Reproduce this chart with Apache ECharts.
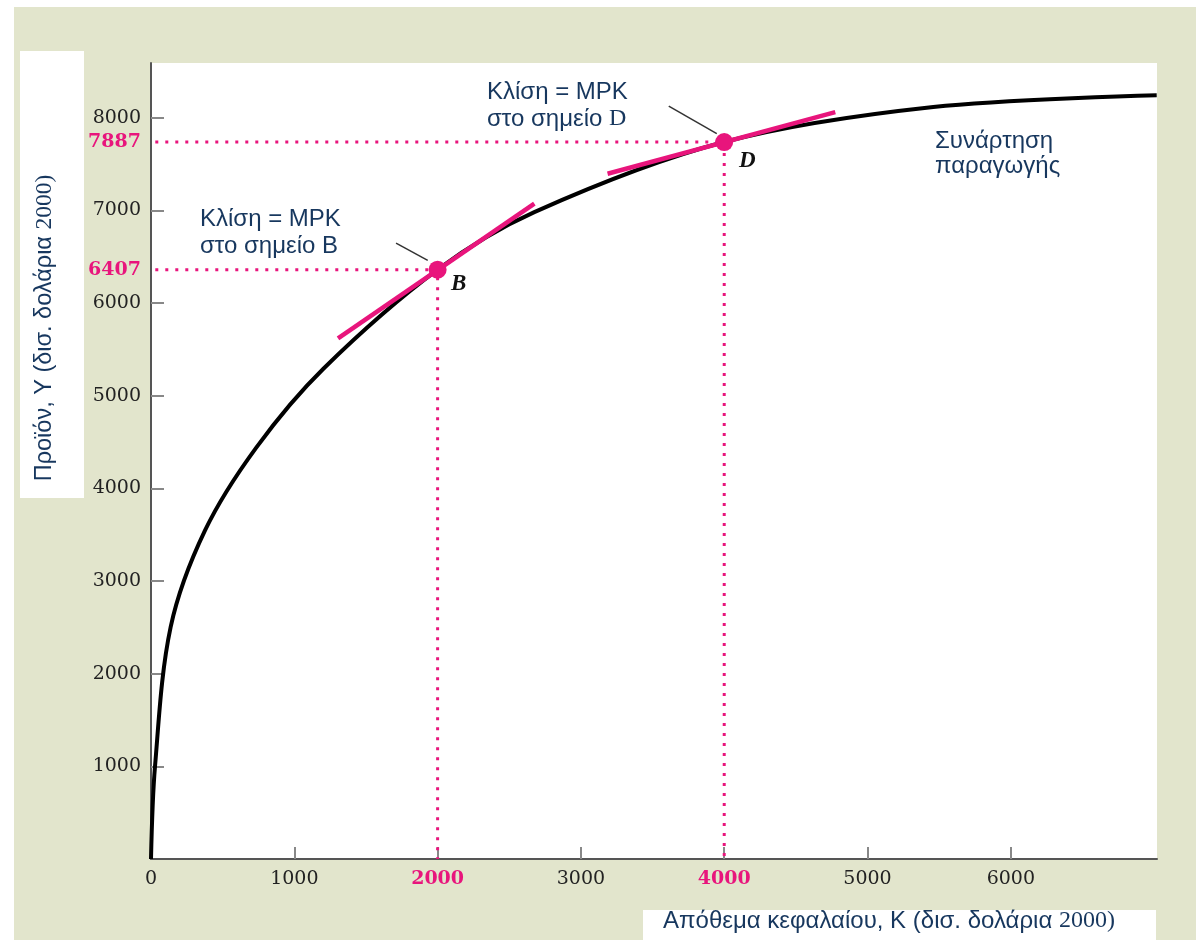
<!DOCTYPE html>
<html><head><meta charset="utf-8">
<script src="https://cdn.jsdelivr.net/npm/echarts@6/dist/echarts.min.js"></script>
<style>html,body{margin:0;padding:0;background:#fff}#c{width:1196px;height:940px}</style>
</head><body><div id="c"></div>
<script>
// Production function curve (K, Y)
const curveK = [0, 28, 137, 377, 737, 1203, 2000, 2675, 4000, 5459, 7018];
const curveY = [0, 1000, 2502, 3546, 4445, 5291, 6360, 6981, 7737, 8115, 8241];
// Marked points B and D
const pointNames = ['B', 'D'];
const pointK = [2000, 4000];
const pointY = [6360, 7737];
const pointYLabels = ['6407', '7887'];
// Tangent segments (slope = MPK)
const tangentBK = [1305, 2675];
const tangentBY = [5618, 7072];
const tangentDK = [3186, 4775];
const tangentDY = [7395, 8060];
// Leader lines from the annotations
const leaderBK = [1710, 1931];
const leaderBY = [6646, 6460];
const leaderDK = [3613, 3948];
const leaderDY = [8125, 7827];
// Axis ticks
const xTickValues = [0, 1000, 2000, 3000, 4000, 5000, 6000];
const xTickMarks = [1000, 2000, 3000, 4000, 5000, 6000];
const yTickValues = [1000, 2000, 3000, 4000, 5000, 6000, 7000, 8000];

const PINK = '#e8157c';
const NAVY = '#17375e';
const BEIGE = '#e2e5cc';
const SANS = '"Liberation Sans", Arial, sans-serif';
const SERIF = '"DejaVu Serif", serif';
const FS = 24;

const zip = (a, b) => a.map((v, i) => [v, b[i]]);

const chart = echarts.init(document.getElementById('c'));

const guideSeries = pointK.map((k, i) => ({
  type: 'line', silent: true, symbol: 'none', z: 3,
  data: [[30, pointY[i]], [k, pointY[i]], [k, 0]],
  lineStyle: { color: PINK, width: 3, type: [3, 7] }
}));

const richSerif = { s: { fontFamily: '"Liberation Serif", serif', fontSize: FS, color: NAVY } };

const option = {
  animation: false,
  grid: { left: 151, right: 39, top: 63, bottom: 81 },
  xAxis: {
    type: 'value', min: 0, max: 7020,
    axisLine: { show: true, lineStyle: { color: '#555', width: 2 } },
    axisTick: { show: true, inside: true, length: 12, customValues: xTickMarks, lineStyle: { color: '#888', width: 2 } },
    axisLabel: {
      customValues: xTickValues, margin: 11,
      fontFamily: SERIF, fontSize: 19, color: '#222',
      formatter: v => pointK.includes(v) ? '{p|' + v + '}' : String(v),
      rich: { p: { color: PINK, fontWeight: 'bold', fontFamily: SERIF, fontSize: 19 } }
    },
    splitLine: { show: false }
  },
  yAxis: {
    type: 'value', min: 0, max: 8590,
    axisLine: { show: true, lineStyle: { color: '#555', width: 2 } },
    axisTick: { show: true, inside: true, length: 13, customValues: yTickValues, lineStyle: { color: '#888', width: 2 } },
    axisLabel: {
      customValues: yTickValues.concat(pointY).sort((a, b) => a - b), margin: 10,
      fontFamily: SERIF, fontSize: 19, color: '#222',
      formatter: v => {
        const i = pointY.indexOf(v);
        return i >= 0 ? '{p|' + pointYLabels[i] + '}' : String(v);
      },
      rich: { p: { color: PINK, fontWeight: 'bold', fontFamily: SERIF, fontSize: 19 } }
    },
    splitLine: { show: false }
  },
  series: [
    ...guideSeries,
    { type: 'line', silent: true, symbol: 'none', z: 4, smooth: 0.33,
      data: zip(curveK, curveY), lineStyle: { color: '#000', width: 4 } },
    { type: 'line', silent: true, symbol: 'none', z: 5, data: zip(tangentBK, tangentBY),
      lineStyle: { color: PINK, width: 4.5 } },
    { type: 'line', silent: true, symbol: 'none', z: 5, data: zip(tangentDK, tangentDY),
      lineStyle: { color: PINK, width: 4.5 } },
    { type: 'line', silent: true, symbol: 'none', z: 5, data: zip(leaderBK, leaderBY),
      lineStyle: { color: '#333', width: 1.5 } },
    { type: 'line', silent: true, symbol: 'none', z: 5, data: zip(leaderDK, leaderDY),
      lineStyle: { color: '#333', width: 1.5 } },
    { type: 'scatter', silent: true, z: 6, symbolSize: 18,
      itemStyle: { color: PINK, opacity: 1 },
      data: pointK.map((k, i) => ({
        value: [k, pointY[i]], name: pointNames[i],
        label: { show: true, formatter: pointNames[i], position: 'inside',
          offset: i === 0 ? [21, 14] : [23, 19],
          fontFamily: '"Liberation Serif", serif', fontStyle: 'italic', fontWeight: 'bold',
          fontSize: 23, color: '#111' }
      }))
    }
  ],
  graphic: [
    { type: 'rect', z: -20, shape: { x: 14, y: 7, width: 1182, height: 933 }, style: { fill: BEIGE } },
    { type: 'rect', z: -19, shape: { x: 151, y: 63, width: 1006, height: 797 }, style: { fill: '#fff' } },
    { type: 'rect', z: -19, shape: { x: 20, y: 51, width: 64, height: 447 }, style: { fill: '#fff' } },
    { type: 'rect', z: -19, shape: { x: 643, y: 910, width: 513, height: 30 }, style: { fill: '#fff' } },
    { type: 'text', x: 45, y: 328, rotation: Math.PI / 2, z: 10,
      style: { text: 'Προϊόν, Υ (δισ. δολάρια {s|2000)}', x: 0, y: 0, align: 'center', verticalAlign: 'middle',
        font: '23.5px ' + SANS, fill: NAVY,
        rich: { s: { fontFamily: '"Liberation Serif", serif', fontSize: 23.5, color: NAVY } } } },
    { type: 'text', x: 663, y: 921, z: 10,
      style: { text: 'Απόθεμα κεφαλαίου, Κ (δισ. δολάρια {s|2000)}', x: 0, y: 0, align: 'left', verticalAlign: 'middle',
        font: FS + 'px ' + SANS, fill: NAVY, rich: richSerif } },
    { type: 'text', x: 487, y: 92, z: 10,
      style: { text: 'Κλίση = MPK', align: 'left', verticalAlign: 'middle', font: FS + 'px ' + SANS, fill: NAVY } },
    { type: 'text', x: 487, y: 119, z: 10,
      style: { text: 'στο σημείο {s|D}', align: 'left', verticalAlign: 'middle', font: FS + 'px ' + SANS, fill: NAVY,
        rich: richSerif } },
    { type: 'text', x: 200, y: 219, z: 10,
      style: { text: 'Κλίση = MPK', align: 'left', verticalAlign: 'middle', font: FS + 'px ' + SANS, fill: NAVY } },
    { type: 'text', x: 200, y: 246, z: 10,
      style: { text: 'στο σημείο B', align: 'left', verticalAlign: 'middle', font: FS + 'px ' + SANS, fill: NAVY } },
    { type: 'text', x: 935, y: 141, z: 10,
      style: { text: 'Συνάρτηση', align: 'left', verticalAlign: 'middle', font: FS + 'px ' + SANS, fill: NAVY } },
    { type: 'text', x: 935, y: 166, z: 10,
      style: { text: 'παραγωγής', align: 'left', verticalAlign: 'middle', font: FS + 'px ' + SANS, fill: NAVY } }
  ]
};
chart.setOption(option);
</script></body></html>
